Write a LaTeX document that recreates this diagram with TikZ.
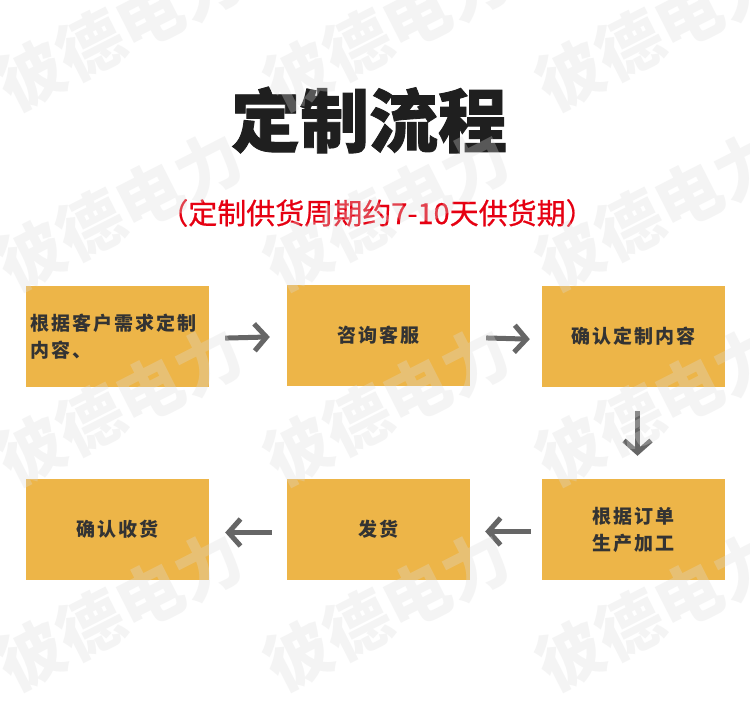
\documentclass[tikz,border=0pt]{standalone}
\usepackage{fontspec}
\usetikzlibrary{arrows.meta}
\newfontfamily\cjk{Noto Sans CJK SC}
\newfontfamily\titlefont{Noto Sans CJK SC}[FakeBold=1.2]
\newfontfamily\subfont{Noto Sans CJK SC}[FakeBold=0.6]
\newfontfamily\boxfont{Noto Sans CJK SC}[LetterSpace=11]
\definecolor{boxyellow}{HTML}{EDB548}
\definecolor{textdark}{HTML}{333333}
\definecolor{arrowgray}{HTML}{666666}
\definecolor{subred}{HTML}{E60012}
\definecolor{wmgray}{HTML}{DCDCDC}
\begin{document}
\begin{tikzpicture}[x=1pt,y=-1pt,
  box/.style={fill=boxyellow, minimum width=183pt, minimum height=101pt, inner sep=0pt,
    text=textdark, font=\boxfont\bfseries\fontsize{19}{27}\selectfont, align=center},
  flow/.style={draw=arrowgray, line width=5pt, -{Straight Barb[length=12pt,width=27pt]}},
  wm/.style={text=wmgray, opacity=0.3, rotate=27, inner sep=0pt,
    font=\cjk\bfseries\fontsize{66}{66}\selectfont}]
\useasboundingbox (0,0) rectangle (750,701);
\fill[white] (0,0) rectangle (750,701);
% title
\node[font=\titlefont\bfseries\fontsize{69}{69}\selectfont, text=black!88] (title) at (369,120) {定制流程};
\node[font=\subfont\fontsize{29}{29}\selectfont, text=subred] (sub) at (377,213) {（定制供货周期约7-10天供货期）};
% boxes
\node[box] (b1) at (117.5,336.5) {\parbox{175pt}{\raggedright 根据客户需求定制\\内容、}};
\node[box] (b2) at (378.5,335.5) {咨询客服};
\node[box] (b3) at (633.5,336.5) {确认定制内容};
\node[box] (b6) at (633.5,529.5) {根据订单\\生产加工};
\node[box] (b5) at (378.5,529.5) {发货};
\node[box] (b4) at (117.5,529.5) {确认收货};
% arrows
\draw[flow, shorten <=16pt, shorten >=17pt] ([yshift=-2pt]b1.east) -- ([yshift=-1pt]b2.west);
\draw[flow, shorten <=16pt, shorten >=12pt] ([yshift=-2pt]b2.east) -- ([yshift=-3pt]b3.west);
\draw[flow, shorten <=24pt, shorten >=23pt] ([xshift=4pt]b3.south) -- ([xshift=4pt]b6.north);
\draw[flow, shorten <=11pt, shorten >=15pt] ([yshift=-2pt]b6.west) -- ([yshift=-2pt]b5.east);
\draw[flow, shorten <=15pt, shorten >=16pt] ([yshift=-3pt]b5.west) -- ([yshift=-3pt]b4.east);
% watermark
\foreach \x in {120,387,659}{
  \foreach \y in {30,210,405,610}{
    \node[wm] at (\x,\y) {彼德电力};
  }
}
\end{tikzpicture}
\end{document}
